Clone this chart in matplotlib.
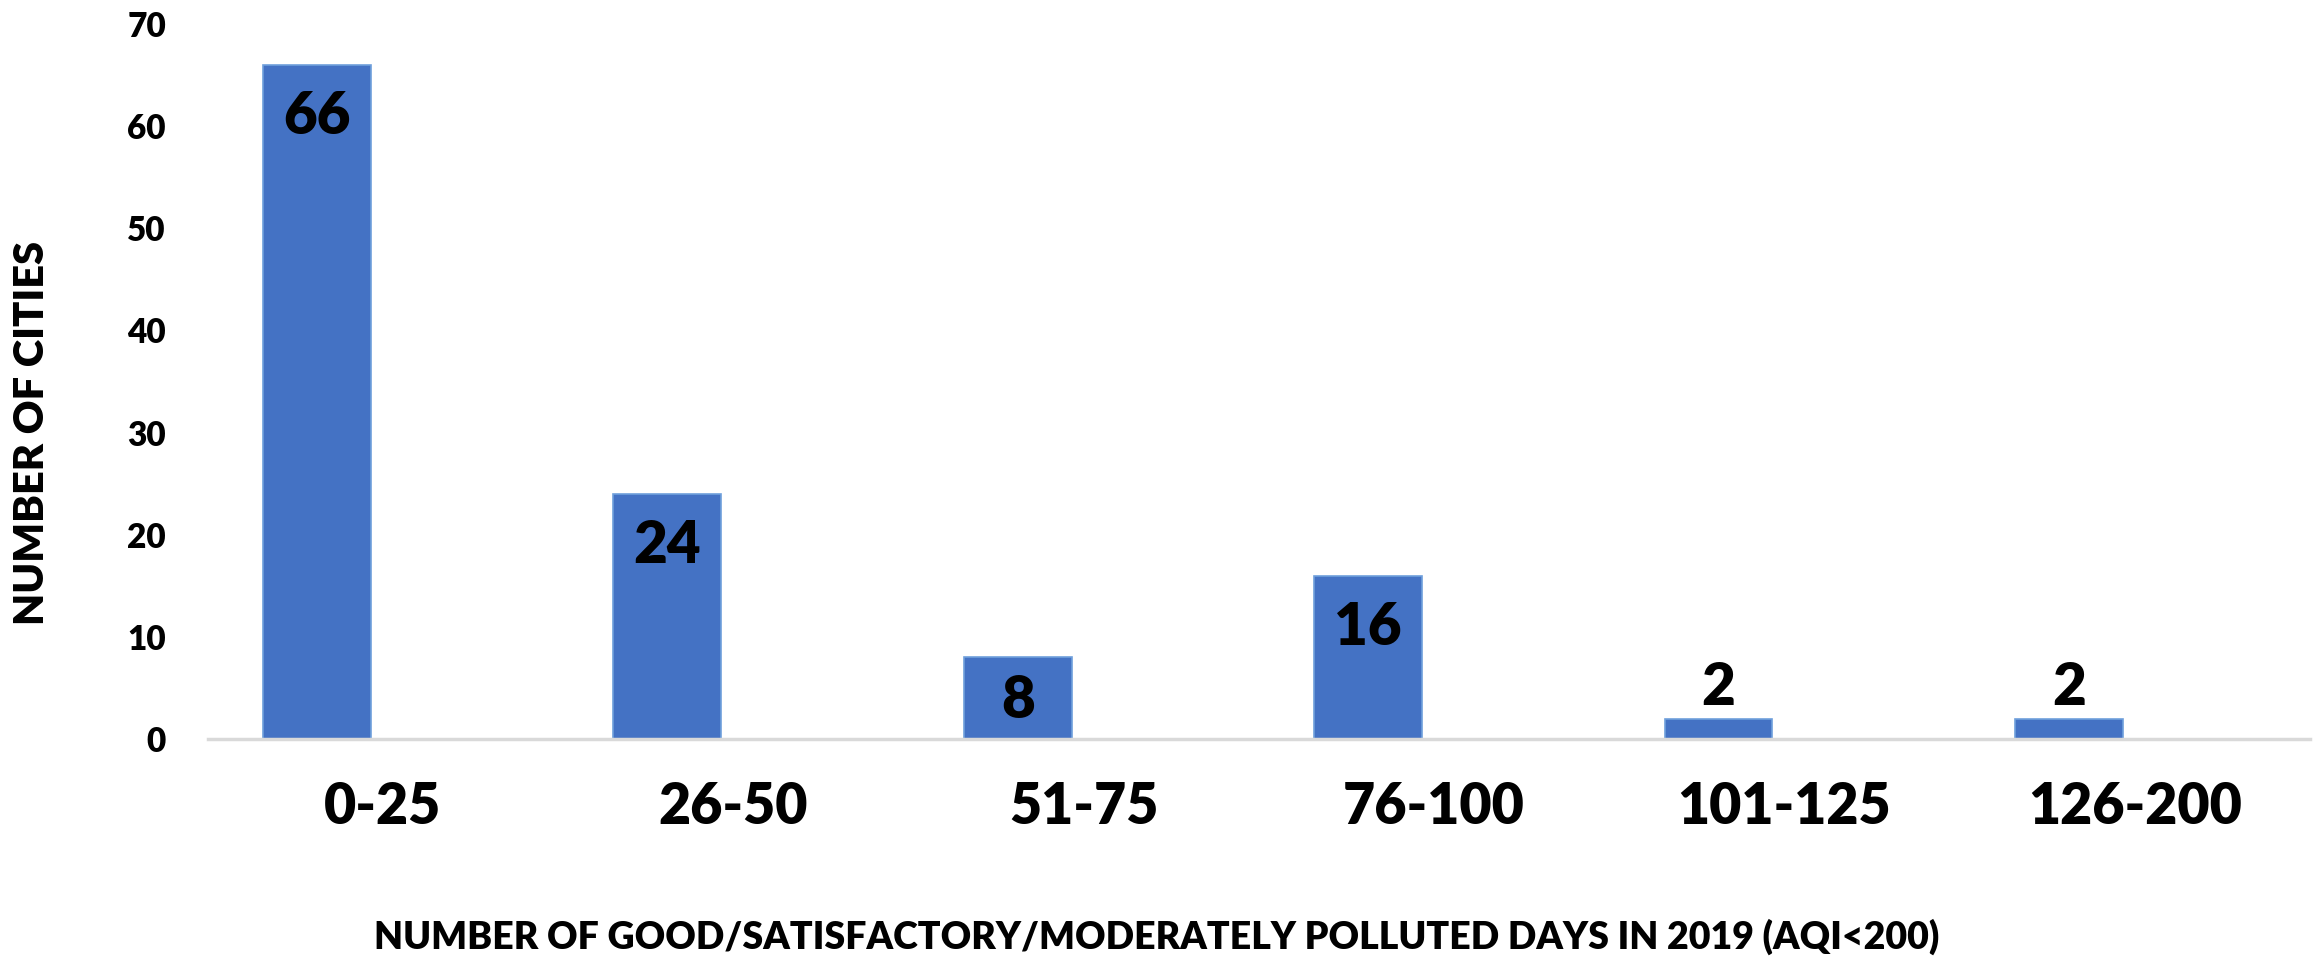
import matplotlib
matplotlib.use("Agg")
import matplotlib.pyplot as plt
import numpy as np

categories = ["0-25", "26-50", "51-75", "76-100", "101-125", "126-200"]
cities = [66, 24, 8, 16, 2, 2]
y_ticks = [0, 10, 20, 30, 40, 50, 60, 70]

plt.rcParams['font.family'] = ['Lato', 'DejaVu Sans']
WEIGHT = 'heavy'

W, H, DPI = 2318, 961, 100
fig = plt.figure(figsize=(W / DPI, H / DPI), dpi=DPI)
ax = fig.add_axes([207.6 / W, 1 - 739 / H, (2310 - 207.6) / W, (739 - 24) / H])

x = np.arange(len(categories))
bar_w = 0.308
offset = -0.188
bars = ax.bar(x + offset, cities, width=bar_w, color="#4472C4",
              edgecolor="#6FA0DC", linewidth=1.2, zorder=3)

ax.set_xlim(-0.5, len(categories) - 0.5)
ax.set_ylim(0, 70)
ax.set_yticks(y_ticks)
ax.set_yticklabels([str(t) for t in y_ticks], fontsize=24, fontweight=WEIGHT)
ax.set_xticks(x)
ax.set_xticklabels(categories, fontsize=40, fontweight=WEIGHT)
ax.tick_params(axis='both', length=0)
ax.tick_params(axis='y', pad=30)
ax.tick_params(axis='x', pad=30)

for s in ("top", "right", "left"):
    ax.spines[s].set_visible(False)
ax.spines["bottom"].set_color("#D9D9D9")
ax.spines["bottom"].set_linewidth(2.5)
ax.spines["bottom"].set_zorder(4)

# value labels: inside the bar top when it fits, otherwise just above
for xi, v in zip(x, cities):
    if v >= 8:
        dy = -18 if v >= 10 else -12
        ax.annotate(str(v), (xi + offset, v), xytext=(0, dy), textcoords="offset points",
                    ha="center", va="top", fontsize=42, fontweight=WEIGHT, color="black", zorder=5)
    else:
        ax.annotate(str(v), (xi + offset, v), xytext=(0, 3), textcoords="offset points",
                    ha="center", va="bottom", fontsize=42, fontweight=WEIGHT, color="black", zorder=5)

fig.text(32.5 / W, 1 - 433 / H, "NUMBER OF CITIES", rotation=90, ha="center", va="center",
         fontsize=30, fontweight=WEIGHT)
fig.text(1157 / W, 1 - 937 / H,
         "NUMBER OF GOOD/SATISFACTORY/MODERATELY POLLUTED DAYS IN 2019 (AQI<200)",
         ha="center", va="center", fontsize=27, fontweight=WEIGHT)

fig.savefig("out.png", dpi=DPI)
